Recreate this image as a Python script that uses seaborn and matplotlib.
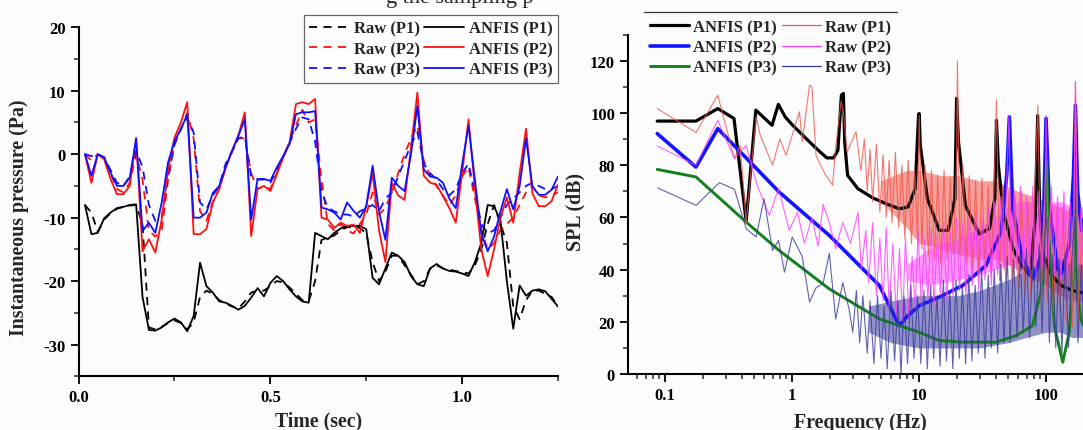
import numpy as np
import pandas as pd
import seaborn as sns
import matplotlib
matplotlib.use("Agg")
import matplotlib.pyplot as plt
from matplotlib.ticker import AutoMinorLocator, LogLocator, NullFormatter
from matplotlib.lines import Line2D

# ---------------- data: left panel (time series, sample step 1/60 s) ----------------
sample_index = list(range(1, 76))
time_step = 1.0 / 60.0

anfis_p1 = [-8.0, -12.6, -12.4, -10.1, -9.2, -8.5, -8.3, -8.0, -7.9,
            -22.5, -27.7, -27.8, -27.3, -26.5, -25.9, -26.5, -27.9, -25.5,
            -17.1, -20.8, -21.8, -23.2, -23.4, -23.9, -24.5, -23.9, -22.6,
            -21.1, -22.4, -20.3, -19.2, -20.0, -21.3, -22.4, -23.2, -23.4,
            -12.4, -12.9, -13.4, -12.4, -11.7, -11.3, -11.3, -11.3, -11.8,
            -19.5, -20.5, -18.0, -15.5, -16.0, -17.0, -19.2, -20.5, -20.8,
            -18.0, -17.3, -18.0, -18.4, -18.5, -18.8, -19.2, -17.0, -14.0,
            -8.0, -8.2, -10.5, -20.0, -27.5, -20.7, -22.3, -21.5, -21.3, -21.6, -22.8, -24.0]
raw_p1 = [-8.0, -9.2, -12.2, -10.3, -9.3, -8.6, -8.3, -8.1, -8.0,
          -11.0, -27.3, -27.6, -27.2, -26.6, -26.2, -26.6, -27.6, -26.5,
          -22.5, -21.5, -22.0, -23.0, -23.5, -24.0, -24.3, -23.2, -21.8,
          -21.5, -21.5, -20.8, -20.0, -20.2, -21.0, -22.0, -23.0, -23.2,
          -20.0, -13.5, -13.2, -12.8, -12.0, -11.5, -11.5, -11.6, -12.5,
          -17.0, -20.0, -18.5, -16.0, -16.0, -17.5, -19.0, -20.5, -20.0,
          -18.0, -17.5, -18.0, -18.2, -18.4, -18.6, -18.8, -17.5, -15.0,
          -11.0, -8.0, -11.0, -14.0, -24.0, -26.0, -23.0, -21.5, -21.5, -22.0, -22.5, -24.0]
anfis_p2 = [0.0, -4.5, 0.0, -0.8, -3.9, -6.3, -6.3, -5.0, 2.6,
            -15.3, -13.4, -15.5, -10.3, -2.4, 2.6, 5.0, 8.2, -12.6,
            -12.6, -11.8, -7.6, -5.5, -2.2, 0.5, 3.0, 6.6, -12.9,
            -5.5, -5.0, -5.8, -3.2, -0.5, 1.8, 7.9, 8.2, 7.9,
            8.7, -10.0, -10.3, -11.6, -10.8, -11.3, -11.1, -12.4, -8.2,
            -3.0, -12.0, -17.0, -4.5, -6.5, -7.2, 1.0, 9.7, -3.4,
            -4.5, -4.8, -6.6, -8.5, -10.8, -3.0, 5.5, -5.5, -15.0,
            -19.2, -15.0, -10.0, -6.8, -10.8, -3.0, 4.0, -6.2, -8.2, -8.2, -7.4, -4.8]
raw_p2 = [0.0, -1.0, 0.0, -0.8, -3.0, -5.5, -6.0, -4.5, 0.0,
          -4.0, -12.0, -13.0, -12.0, -4.0, 1.5, 4.0, 6.5, 2.5,
          -9.0, -10.5, -7.5, -5.5, -2.0, 0.3, 2.5, 2.5, -3.0,
          -5.5, -5.0, -5.5, -3.0, -0.5, 2.0, 4.5, 7.0, 5.0,
          5.5, -4.0, -11.0, -12.0, -11.0, -12.0, -12.5, -11.0, -9.5,
          -6.0, -9.5, -8.5, -6.0, -3.0, 0.0, 2.5, 4.5, -1.0,
          -3.5, -5.0, -6.5, -8.0, -6.5, -3.5, -2.0, -7.0, -12.0,
          -15.0, -14.0, -12.0, -11.0, -10.0, -8.0, -6.0, -5.0, -6.5, -6.8, -6.5, -6.0]
anfis_p3 = [0.0, -3.4, 0.0, -0.5, -2.9, -5.0, -5.0, -3.7, 2.4,
            -12.1, -10.8, -12.4, -7.6, -1.3, 2.1, 3.9, 6.3, -10.0,
            -10.0, -9.2, -6.1, -5.0, -2.0, 0.5, 2.9, 5.5, -10.3,
            -3.9, -3.9, -4.2, -2.1, -0.3, 1.6, 6.3, 6.6, 6.6,
            6.8, -8.4, -8.7, -9.2, -10.3, -7.6, -8.9, -10.0, -8.2,
            -1.8, -9.0, -13.5, -3.7, -5.0, -5.8, 0.0, 7.6, -2.4,
            -3.5, -3.7, -4.5, -7.0, -8.5, -1.6, 4.5, -4.0, -12.5,
            -15.3, -13.0, -9.0, -5.5, -8.7, -5.0, 2.5, -5.1, -6.4, -6.4, -5.6, -3.5]
raw_p3 = [0.0, -0.3, 0.0, -0.5, -2.5, -4.5, -5.0, -3.5, 0.5,
          -2.0, -8.0, -10.5, -10.0, -3.5, 1.5, 4.0, 5.8, 3.4,
          -7.6, -8.7, -6.5, -5.0, -1.5, 0.5, 2.5, 2.8, -3.5,
          -4.0, -4.0, -4.5, -2.5, -0.5, 1.8, 4.0, 5.8, 5.5,
          2.0, -6.0, -8.4, -9.0, -9.5, -9.5, -9.8, -9.0, -8.5,
          -8.0, -9.0, -7.0, -6.0, -3.5, -1.0, 1.5, 3.5, -1.5,
          -3.0, -4.0, -5.5, -6.5, -5.5, -3.0, -1.5, -6.0, -11.0,
          -12.5, -12.0, -10.0, -8.0, -7.0, -6.0, -5.0, -4.5, -5.0, -5.5, -5.5, -5.0]

left_xticks = [0.0, 0.5, 1.0]
left_xticklabels = ["0.0", "0.5", "1.0"]
left_yticks = [-30, -20, -10, 0, 10, 20]

# ---------------- data: right panel (spectra) ----------------
anfis_p1_f = [0.0865, 0.1746, 0.2595, 0.348, 0.434, 0.517, 0.694, 0.778, 0.881, 1.0, 1.21, 1.55, 1.87,
              2.12, 2.29, 2.44, 2.53, 2.59, 2.73, 3.29, 4.3, 5.44, 7.0, 8.19, 9.29, 9.89, 10.0, 10.2,
              11.6, 14.4, 16.9, 19.1, 19.7, 20.4, 23.1, 29.7, 35.8, 39.4, 40.6, 42.0, 46.0, 55.0,
              65.0, 75.0, 82.0, 85.7, 89.0, 95.0, 110.0, 130.0, 160.0, 200.0]
anfis_p1_db = [96.9, 96.9, 101.7, 97.9, 58.5, 101.1, 95.3, 103.3, 98.5, 95.5, 91.5, 86.4, 82.8,
               82.8, 85.7, 106.8, 107.5, 88.9, 76.1, 71.0, 67.5, 65.3, 63.3, 64.0, 71.0, 99.2, 99.8, 87.6,
               67.2, 55.0, 55.0, 67.2, 105.6, 88.9, 64.6, 53.7, 55.7, 67.2, 97.2, 80.0, 62.0, 48.0,
               41.0, 38.0, 60.0, 99.0, 62.0, 46.0, 38.0, 34.0, 32.0, 31.0]
anfis_p2_f = [0.0865, 0.1746, 0.2595, 0.79, 1.96, 4.86, 6.98, 8.0, 10.0, 14.4, 22.0, 33.6, 44.1,
              48.9, 51.3, 54.5, 65.3, 78.3, 93.8, 99.8, 106.0, 123.0, 131.0, 152.0, 164.0, 170.0,
              177.0, 190.0, 200.0]
anfis_p2_db = [92.1, 79.3, 94.0, 69.7, 53.1, 33.9, 18.5, 22.0, 26.2, 29.5, 33.9, 41.6, 54.4,
               76.1, 98.5, 63.3, 44.1, 36.5, 46.7, 97.9, 63.3, 40.3, 38.4, 49.3, 76.0, 103.0,
               70.0, 55.0, 60.0]
anfis_p3_f = [0.0865, 0.1746, 0.434, 0.79, 1.96, 4.86, 10.0, 14.4, 22.0, 40.3, 58.0, 78.0, 91.0,
              98.0, 101.0, 104.0, 116.0, 135.0, 152.0, 164.0, 170.0, 177.0, 190.0, 200.0]
anfis_p3_db = [78.4, 75.5, 58.2, 47.3, 32.6, 21.1, 16.0, 12.8, 12.2, 12.2, 14.7, 18.5, 31.4,
               63.0, 81.3, 56.0, 18.5, 4.5, 16.0, 37.7, 82.5, 30.0, 20.0, 18.0]

raw_p1_f = [0.0865, 0.175, 0.259, 0.351, 0.39, 0.434, 0.52, 0.56, 0.70, 0.80, 0.895, 1.14, 1.2,
            1.37, 1.43, 1.54, 1.67, 1.85, 2.08, 2.2, 2.43, 2.53, 2.7, 3.18, 3.47,
            3.7, 3.9, 4.1, 4.3, 4.6, 4.9, 5.2, 5.5, 5.8, 6.1, 6.5, 6.9, 7.3, 7.7, 8.2, 8.7, 9.2, 9.7,
            10.0, 10.5, 11.1, 11.8, 12.5, 13.2, 14.0, 14.8, 15.7, 16.6, 17.6, 18.6, 19.7, 20.0, 20.9,
            22.1, 23.4, 24.8, 26.3, 27.8, 29.5, 31.2, 33.0, 35.0, 37.0, 39.2, 40.6, 43.0, 45.5, 48.0,
            51.0, 54.0, 57.0, 60.0, 64.0, 68.0, 72.0, 76.0, 81.0, 86.0, 91.0, 96.0, 102.0, 108.0,
            114.0, 121.0, 128.0, 136.0, 144.0, 152.0, 161.0, 170.0, 180.0, 190.0, 200.0]
raw_p1_db = [101.7, 92.5, 106.8, 82.5, 87.6, 58.0, 98.5, 91.5, 80.0, 90.0, 83.8, 100.5, 89.0,
             110.7, 110.0, 83.8, 80.0, 76.0, 72.3, 87.0, 104.6, 100.5, 85.0, 92.8, 78.0,
             90.0, 70.0, 86.0, 66.0, 88.0, 62.0, 84.0, 60.0, 82.0, 58.0, 85.0, 56.0, 80.0, 52.0, 82.0, 50.0, 78.0, 52.0,
             99.0, 48.0, 80.0, 45.0, 78.0, 44.0, 76.0, 42.0, 78.0, 44.0, 75.0, 46.0, 82.0, 120.0, 45.0,
             80.0, 42.0, 76.0, 40.0, 74.0, 38.0, 75.0, 40.0, 72.0, 38.0, 78.0, 105.0, 36.0, 72.0, 35.0,
             70.0, 34.0, 68.0, 32.0, 70.0, 30.0, 66.0, 28.0, 68.0, 103.0, 28.0, 64.0, 26.0, 66.0,
             24.0, 62.0, 22.0, 64.0, 20.0, 60.0, 18.0, 112.0, 20.0, 58.0, 25.0]
raw_p2_f = [0.0865, 0.175, 0.259, 0.351, 0.434, 0.53, 0.66, 0.78, 0.95, 1.1, 1.25, 1.43, 1.6,
            1.75, 1.96, 2.2, 2.5, 2.88, 3.3, 3.5, 3.8, 4.0, 4.3, 4.6, 4.9, 5.2, 5.5, 5.8, 6.2, 6.6,
            7.0, 7.4, 7.8, 8.3, 8.8, 9.3, 9.8, 10.4, 11.0, 11.7, 12.4, 13.1, 13.9, 14.7, 15.6, 16.5,
            17.5, 18.5, 19.6, 20.8, 22.0, 23.3, 24.7, 26.2, 27.8, 29.4, 31.2, 33.0, 35.0, 37.0,
            39.2, 41.5, 44.0, 46.6, 49.4, 51.0, 53.0, 56.0, 59.0, 62.5, 66.0, 70.0, 74.0, 78.5,
            83.0, 88.0, 93.0, 98.5, 100.0, 104.0, 110.0, 116.0, 123.0, 130.0, 138.0, 146.0, 155.0,
            164.0, 170.0, 178.0, 188.0, 198.0]
raw_p2_db = [87.4, 80.0, 97.2, 82.5, 87.6, 72.3, 60.8, 71.0, 55.0, 62.0, 50.0, 60.0, 49.0,
             65.0, 58.0, 48.0, 58.0, 50.0, 62.0, 40.0, 55.0, 35.0, 58.0, 30.0, 52.0, 28.0, 56.0, 25.0, 50.0, 22.0,
             48.0, 20.0, 52.0, 22.0, 45.0, 25.0, 55.0, 26.0, 52.0, 28.0, 56.0, 26.0, 54.0, 30.0, 58.0, 28.0,
             55.0, 30.0, 60.0, 32.0, 58.0, 30.0, 60.0, 34.0, 62.0, 32.0, 60.0, 36.0, 64.0, 34.0,
             66.0, 38.0, 68.0, 40.0, 80.0, 99.0, 42.0, 70.0, 40.0, 72.0, 38.0, 68.0, 40.0, 72.0,
             38.0, 70.0, 40.0, 75.0, 99.0, 42.0, 72.0, 38.0, 68.0, 36.0, 70.0, 34.0, 66.0,
             36.0, 112.0, 40.0, 64.0, 38.0]
raw_p3_f = [0.0873, 0.175, 0.267, 0.351, 0.434, 0.52, 0.60, 0.70, 0.78, 0.87, 1.0, 1.2, 1.37,
            1.54, 1.75, 1.96, 2.2, 2.5, 2.8, 3.0, 3.2, 3.4, 3.6, 3.9, 4.1, 4.4, 4.7, 5.0, 5.3, 5.6,
            6.0, 6.4, 6.8, 7.2, 7.6, 8.1, 8.6, 9.1, 9.7, 10.3, 10.9, 11.6, 12.3, 13.0, 13.8, 14.6,
            15.5, 16.4, 17.4, 18.4, 19.5, 20.7, 21.9, 23.2, 24.6, 26.0, 27.6, 29.2, 31.0, 33.0,
            35.0, 37.0, 39.0, 41.5, 44.0, 46.6, 49.4, 52.0, 55.5, 59.0, 62.5, 66.0, 70.0, 74.0,
            78.5, 83.0, 88.0, 93.0, 98.0, 101.0, 106.0, 112.0, 119.0, 126.0, 133.0, 141.0, 150.0,
            159.0, 168.0, 178.0, 189.0, 198.0]
raw_p3_db = [71.3, 64.6, 73.3, 70.8, 55.7, 52.5, 67.2, 47.3, 51.2, 39.0, 52.5, 45.0, 27.6,
             33.0, 34.6, 46.3, 21.0, 35.0, 25.0, 16.0, 32.0, 12.0, 30.0, 8.0, 28.0, 4.0, 30.0, 6.0, 26.0, 2.0,
             32.0, 5.0, 28.0, 0.0, 30.0, 4.0, 34.0, 6.0, 30.0, 4.0, 32.0, 2.0, 34.0, 6.0, 30.0, 3.0,
             36.0, 5.0, 32.0, 2.0, 36.0, 6.0, 34.0, 4.0, 38.0, 5.0, 34.0, 8.0, 40.0, 6.0,
             38.0, 10.0, 40.0, 8.0, 42.0, 12.0, 45.0, 12.0, 44.0, 14.0, 46.0, 16.0, 48.0, 14.0,
             46.0, 18.0, 50.0, 16.0, 55.0, 60.0, 12.0, 46.0, 10.0, 44.0, 8.0, 46.0, 10.0,
             44.0, 60.0, 12.0, 42.0, 14.0]

# denser cores of the raw noise bands (lower / upper envelope)
band_p1_f = [5, 8, 10, 15, 20, 30, 40, 60, 80, 100, 130, 160, 200]
band_p1_lo = [66, 56, 50, 48, 46, 44, 44, 40, 36, 34, 30, 28, 28]
band_p1_hi = [74, 78, 78, 76, 76, 74, 74, 70, 68, 66, 64, 62, 62]
band_p2_f = [8, 12, 20, 30, 40, 50, 60, 80, 100, 130, 160, 200]
band_p2_lo = [36, 34, 36, 38, 40, 42, 42, 42, 40, 40, 38, 38]
band_p2_hi = [42, 48, 52, 56, 60, 64, 66, 66, 66, 66, 64, 64]
band_p3_f = [4, 6, 10, 20, 30, 50, 70, 100, 130, 160, 200]
band_p3_lo = [16, 12, 10, 10, 10, 12, 14, 16, 16, 14, 14]
band_p3_hi = [26, 28, 30, 30, 32, 36, 40, 44, 44, 42, 42]

right_xticks = [0.1, 1, 10, 100]
right_xticklabels = ["0.1", "1", "10", "100"]
right_yticks = [0, 20, 40, 60, 80, 100, 120]

# ---------------- style ----------------
sns.set_style("ticks")
plt.rcParams["font.family"] = ["Liberation Serif", "DejaVu Serif"]
plt.rcParams["font.weight"] = "bold"
plt.rcParams["axes.labelweight"] = "bold"
plt.rcParams["axes.unicode_minus"] = False
BG = "#fcfcfc"

W, H = 1083, 431
fig = plt.figure(figsize=(W / 100, H / 100), dpi=100, facecolor=BG)

ax1 = fig.add_axes([78.6 / W, 1 - 377.3 / H, (558 - 78.6) / W, (377.3 - 28.3) / H])
ax2 = fig.add_axes([628.3 / W, 1 - 375 / H, (W - 628.3) / W, (375 - 35.7) / H])
for ax in (ax1, ax2):
    ax.set_facecolor(BG)

# ---------------- left panel ----------------
t = [k * time_step for k in sample_index]
df = pd.DataFrame({"t": t, "raw_p1": raw_p1, "anfis_p1": anfis_p1, "raw_p2": raw_p2,
                   "anfis_p2": anfis_p2, "raw_p3": raw_p3, "anfis_p3": anfis_p3})
lw = 1.3
dash = (4.5, 3.5)
left_specs = [("raw_p1", "Raw (P1)", "black", True), ("raw_p2", "Raw (P2)", "#ff1010", True),
              ("raw_p3", "Raw (P3)", "#1010ff", True), ("anfis_p1", "ANFIS (P1)", "black", False),
              ("anfis_p2", "ANFIS (P2)", "#ff1010", False), ("anfis_p3", "ANFIS (P3)", "#1010ff", False)]
handles1 = []
for col, lab, colr, dashed in left_specs:
    sns.lineplot(data=df, x="t", y=col, ax=ax1, color=colr, lw=lw, estimator=None, sort=False,
                 legend=False)
    line = ax1.lines[-1]
    if dashed:
        line.set_dashes(dash)
    h = Line2D([], [], color=colr, lw=lw, label=lab)
    if dashed:
        h.set_dashes(dash)
    handles1.append(h)
ax1.set_xlim(0, 1.25)
ax1.set_ylim(-35, 20)
ax1.set_xticks(left_xticks, left_xticklabels)
ax1.set_yticks(left_yticks)
ax1.xaxis.set_minor_locator(AutoMinorLocator(2))
ax1.yaxis.set_minor_locator(AutoMinorLocator(2))
ax1.set_xlabel("Time (sec)", fontsize=14.3, fontweight="bold")
ax1.set_ylabel("Instantaneous pressure (Pa)", fontsize=14.3, fontweight="bold")
ax1.xaxis.set_label_coords(0.5, -0.097)
ax1.yaxis.set_label_coords(-0.104, 0.458)

leg1 = ax1.legend(handles=handles1, ncol=2, loc="upper right",
                  bbox_to_anchor=(558 / W, 1 - 16 / H), bbox_transform=fig.transFigure,
                  borderaxespad=0, prop={"family": "Liberation Serif", "weight": "bold", "size": 12},
                  handlelength=2.4, handletextpad=0.3, columnspacing=0.2, labelspacing=0.28,
                  borderpad=0.33, frameon=True, fancybox=False, framealpha=1, edgecolor="#666666",
                  facecolor="white")
leg1.get_frame().set_linewidth(0.9)

# ---------------- right panel ----------------
ax2.set_xscale("log")
sns.lineplot(x=anfis_p1_f, y=anfis_p1_db, ax=ax2, color="black", lw=2.3, estimator=None, sort=False)
sns.lineplot(x=anfis_p2_f, y=anfis_p2_db, ax=ax2, color="#1414ff", lw=2.6, estimator=None, sort=False)
sns.lineplot(x=anfis_p3_f, y=anfis_p3_db, ax=ax2, color="#13801a", lw=2.1, estimator=None, sort=False)

raw_specs = [(raw_p1_f, raw_p1_db, band_p1_f, band_p1_lo, band_p1_hi, "#f0564c", 0.55),
             (raw_p2_f, raw_p2_db, band_p2_f, band_p2_lo, band_p2_hi, "#ff3cff", 0.5),
             (raw_p3_f, raw_p3_db, band_p3_f, band_p3_lo, band_p3_hi, "#3a3a9c", 0.55)]
for rf, rdb, bf, blo, bhi, colr, a in raw_specs:
    ax2.fill_between(bf, blo, bhi, color=colr, alpha=a, lw=0)
    sns.lineplot(x=rf, y=rdb, ax=ax2, color=colr, lw=0.8, alpha=0.8, estimator=None, sort=False)

ax2.set_xlim(0.0512, 195)
ax2.set_ylim(0, 130)
ax2.set_xticks(right_xticks, right_xticklabels)
ax2.xaxis.set_minor_locator(LogLocator(base=10, subs=np.arange(2, 10)))
ax2.xaxis.set_minor_formatter(NullFormatter())
ax2.set_yticks(right_yticks)
ax2.yaxis.set_minor_locator(AutoMinorLocator(2))
ax2.set_xlabel("Frequency (Hz)", fontsize=14.3, fontweight="bold")
ax2.set_ylabel("SPL (dB)", fontsize=14.3, fontweight="bold")
ax2.xaxis.set_label_coords(0.51, -0.111)
ax2.yaxis.set_label_coords(-0.095, 0.481)

handles2 = [Line2D([], [], color="black", lw=2.3, label="ANFIS (P1)"),
            Line2D([], [], color="#1414ff", lw=2.6, label="ANFIS (P2)"),
            Line2D([], [], color="#13801a", lw=2.1, label="ANFIS (P3)"),
            Line2D([], [], color="#f0564c", lw=0.9, label="Raw (P1)"),
            Line2D([], [], color="#ff3cff", lw=0.9, label="Raw (P2)"),
            Line2D([], [], color="#3a3a9c", lw=0.9, label="Raw (P3)")]
leg2 = ax2.legend(handles=handles2, ncol=2, loc="upper left",
                  bbox_to_anchor=(647.5 / W, 1 - 17.5 / H), bbox_transform=fig.transFigure,
                  borderaxespad=0, prop={"family": "Liberation Serif", "weight": "bold", "size": 12},
                  handlelength=2.35, handletextpad=0.25, columnspacing=0.28, labelspacing=0.26,
                  borderpad=0.15, frameon=False)

# ---------------- axes styling ----------------
for ax in (ax1, ax2):
    sns.despine(ax=ax, top=True, right=True)
    for s in ("left", "bottom"):
        ax.spines[s].set_linewidth(1.5)
        ax.spines[s].set_color("black")
    ax.tick_params(which="major", direction="out", length=6, width=1.3, labelsize=12,
                   colors="black")
    ax.tick_params(which="minor", direction="out", length=3.5, width=1.1)
    for lab in ax.get_xticklabels() + ax.get_yticklabels():
        lab.set_fontweight("bold")

# top rule of the right legend
fig.canvas.draw()
bb = leg2.get_window_extent().transformed(fig.transFigure.inverted())
fig.add_artist(Line2D([bb.x0 - 0.003, bb.x1 + 0.003], [1 - 13 / H, 1 - 13 / H],
                      transform=fig.transFigure, color="#333333", lw=0.9))

# cropped caption fragment at the top edge
fig.text(386 / W, 1 - 3 / H, "g the sampling p", fontsize=16, fontweight="normal",
         family="Liberation Serif", va="baseline", ha="left")

fig.savefig("out.png", dpi=100, facecolor=BG)
